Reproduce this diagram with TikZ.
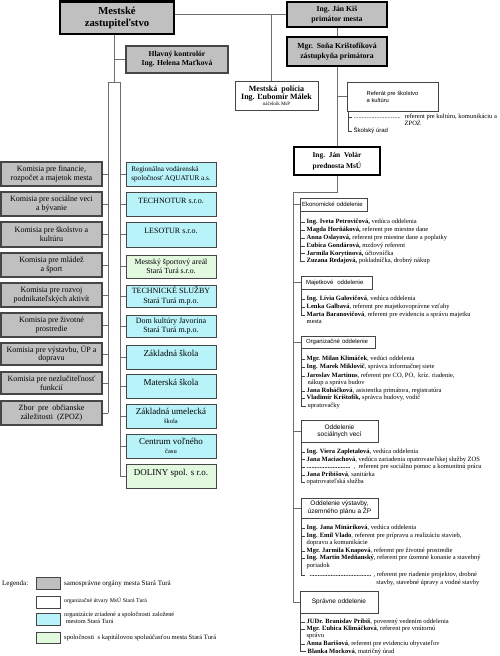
\documentclass[tikz,border=0pt]{standalone}
\usepackage{fontspec}
\setmainfont{Liberation Serif}
\setsansfont{Liberation Sans}
\usetikzlibrary{calc}
\definecolor{grayfill}{RGB}{192,192,192}
\definecolor{cyanfill}{RGB}{184,243,250}
\definecolor{greenfill}{RGB}{226,249,224}
\definecolor{linec}{RGB}{110,110,110}
\definecolor{bordc}{RGB}{70,70,70}
\newcommand\fsz[2]{\fontsize{#1}{#2}\selectfont}
\newcommand\mybox[7]{\node[#2, minimum width={(#5-#3)*1pt}, minimum height={(#6-#4)*1pt}] (#1) at ({(#3+#5)/2},{(#4+#6)/2}) {#7};}
\tikzset{
  every node/.style={inner sep=1pt},
  conn/.style={draw=linec, line width=0.9pt},
  stub/.style={draw=bordc, line width=0.5pt},
  headbox/.style={draw=black, line width=2pt, fill=grayfill, align=center, font=\bfseries\fsz{7.7}{10}},
  kom/.style={draw=bordc, line width=1.1pt, fill=grayfill, align=center, font=\fsz{8}{8.8}},
  comp/.style={draw=bordc, line width=0.9pt, fill=cyanfill, align=center, font=\fsz{8}{9.5}},
  compg/.style={comp, fill=greenfill},
  school/.style={comp, font=\fsz{9}{9.5}},
  dept/.style={draw=bordc, line width=0.6pt, fill=white, align=center, font=\sffamily\fsz{6}{7.3}},
  listitem/.style={anchor=west, inner xsep=1.5pt, inner ysep=0pt, font=\fsz{6.5}{7.8}, text height=4.6pt, text depth=1.4pt},
  legtext/.style={anchor=west, inner sep=0pt, align=left},
  txtup/.style={text depth=#1},
}
\begin{document}
\begin{tikzpicture}[x=1pt,y=-1pt]
\useasboundingbox (0,0) rectangle (500,656);

% ---------- top level ----------
\mybox{mz}{headbox, line width=2.4pt, font=\bfseries\fsz{10.7}{12.3}}{60}{1.5}{174}{34}{Mestské\\zastupiteľstvo}
\mybox{kis}{headbox}{287}{1.5}{387}{27}{Ing. Ján Kiš\\primátor mesta}
\mybox{sona}{headbox}{287}{37}{387}{66}{Mgr.\ \ Soňa Krištofíková\\zástupkyňa primátora}
\mybox{hk}{kom, font=\bfseries\fsz{7.6}{9.3}}{126}{46}{228}{73}{Hlavný kontrolór\\Ing. Helena Maťková}
\mybox{pol}{dept, line width=0.8pt, font=\bfseries\fsz{8}{7}}{235}{81}{318}{110}{Mestská\ \ polícia\\Ing. Ľubomír Málek\\[-1pt]{\mdseries\fsz{5}{5}náčelník MsP}}
\mybox{ref}{dept, align=left, font=\sffamily\fsz{5.8}{7}}{347}{82}{438}{111}{Referát pre školstvo\\a kultúru}
\mybox{vol}{headbox, fill=white, font=\bfseries\fsz{7.4}{11}}{294}{147}{380}{175}{Ing.\ \ Ján\ \ Volár\\prednosta MsÚ}

% ---------- commissions ----------
\mybox{k1}{kom}{1}{162}{102}{186}{Komisia pre financie,\\rozpočet a majetok mesta}
\mybox{k2}{kom}{1}{192}{102}{216}{Komisia pre sociálne veci\\a bývanie}
\mybox{k3}{kom}{1}{222}{102}{247}{Komisia pre školstvo a\\kultúru}
\mybox{k4}{kom}{1}{253}{102}{277}{Komisia pre mládež\\a šport}
\mybox{k5}{kom}{1}{283}{102}{307}{Komisia pre rozvoj\\podnikateľských aktivít}
\mybox{k6}{kom}{1}{313}{102}{337}{Komisia pre životné\\prostredie}
\mybox{k7}{kom}{1}{343}{102}{365}{Komisia pre výstavbu, ÚP a\\dopravu}
\mybox{k8}{kom}{1}{372}{102}{394}{Komisia pre nezlučiteľnosť\\funkcií}
\mybox{k9}{kom}{1}{401}{102}{425}{Zbor\ \ pre\ \ občianske\\záležitosti\ \ (ZPOZ)}

% ---------- companies ----------
\mybox{c1}{comp, align=left, font=\fsz{7.2}{9}}{126}{162}{216}{186}{Regionálna vodárenská\\spoločnosť AQUATUR a.s.}
\mybox{c2}{comp, txtup=7pt}{126}{192}{216}{216}{TECHNOTUR s.r.o.}
\mybox{c3}{comp, txtup=7pt}{126}{222}{216}{247}{LESOTUR s.r.o.}
\mybox{c4}{compg, font=\fsz{7.8}{9.5}}{126}{255}{216}{278}{Mestský športový areál\\Stará Turá s.r.o.}
\mybox{c5}{comp}{126}{285}{216}{307}{TECHNICKÉ SLUŽBY\\Stará Turá m.p.o.}
\mybox{c6}{comp}{126}{315}{216}{337}{Dom kultúry Javorina\\Stará Turá m.p.o.}
\mybox{c7}{school, txtup=8pt}{126}{345}{216}{369}{Základná škola}
\mybox{c8}{school, txtup=8pt}{126}{374}{216}{398}{Materská škola}
\mybox{c9}{school}{126}{404}{216}{428}{Základná umelecká\\{\fsz{6.5}{7}škola}}
\mybox{c10}{school}{126}{434}{216}{458}{Centrum voľného\\{\fsz{6.5}{7}času}}
\mybox{c11}{school, fill=greenfill, txtup=8pt}{126}{464}{216}{488}{DOLINY spol. s r.o.}

% ---------- departments ----------
\node[dept, text width=63pt, inner xsep=2pt, align=left, minimum height=13pt] (eko) at (333.5,204.5) {Ekonomické oddelenie};
\node[dept, text width=61pt, inner xsep=5pt, align=left, minimum height=13pt] (maj) at (336.5,282.5) {Majetkové\ \ oddelenie};
\node[dept, text width=64pt, inner xsep=5pt, align=left, minimum height=12pt] (org) at (338,342) {Organizačné oddelenie};
\mybox{soc}{dept, font=\sffamily\fsz{6.5}{7.3}}{301}{420}{378}{442}{Oddelenie\\sociálnych vecí}
\mybox{vys}{dept, font=\sffamily\fsz{6.5}{7}}{301}{498}{378}{518}{Oddelenie výstavby,\\územného plánu a ŽP}
\mybox{spr}{dept, font=\sffamily\fsz{6.5}{7}}{300}{591}{378}{613}{Správne oddelenie}

% ---------- connectors: top ----------
\draw[conn] (mz.east |- kis.west) -- (kis.west);
\coordinate (pv) at (271,14);
\draw[conn] (pv) -- (pv |- pol.north);
\draw[conn] (kis.south) -- (sona.north);
\draw[conn] (sona.south) -- (vol.north);
\draw[conn] (sona.south |- ref.west) -- (ref.west);

% ---------- connectors: left column ----------
\coordinate (colT) at (114,82);
\coordinate (colL) at (108,82);
\coordinate (colR) at (120,82);
\draw[conn] (colT |- mz.south) -- (colT);
\draw[conn] (colL) -- (colR);
\draw[conn] (colL) -- (colL |- k9.east);
\draw[conn] (colR) -- (colR |- c11.west);
\draw[conn] (hk.west -| colT) -- (hk.west);
\foreach \i in {1,...,9} \draw[conn] (k\i.east) -- (k\i.east -| colL);
\foreach \i in {1,...,11} \draw[conn] (c\i.west) -- (c\i.west -| colR);

% ---------- connectors: departments ----------
\coordinate (dsp) at (293,192);
\draw[conn] (vol.south) |- (dsp) -- (dsp |- spr.west);
\foreach \d in {eko,maj,org,soc,vys,spr} \draw[conn] (dsp |- \d.west) -- (\d.west);

% ---------- Referat sub items ----------
\coordinate (refS) at ($(ref.south west)+(1.5,0)$);
\node[listitem] (r1) at (352,117) {\makebox[51pt][l]{.............................}referent pre kultúru, komunikáciu a};
\node[listitem] (r2) at (403,123.5) {ZPOZ};
\node[listitem, font=\sffamily\fsz{6}{7}] (r3) at (352,131) {Školský úrad};
\foreach \n in {r1,r3} \draw[stub] (refS) |- (\n.west);

% ---------- Ekonomicke ----------
\coordinate (ekoS) at ($(eko.south west)+(1,0)$);
\node[listitem] (e1) at (305,222) {\textbf{Ing. Iveta Petrovičová,} vedúca oddelenia};
\node[listitem] (e2) at (305,230) {\textbf{Magda Horňáková,} referent pre miestne dane};
\node[listitem] (e3) at (305,238) {\textbf{Anna Oslayová,} referent pre miestne dane a poplatky};
\node[listitem] (e4) at (305,246) {\textbf{Ľubica Gondárová,} mzdový referent};
\node[listitem] (e5) at (305,253.5) {\textbf{Jarmila Korytinová,} účtovníčka};
\node[listitem] (e6) at (305,261) {\textbf{Zuzana Redajová,} pokladníčka, drobný nákup};
\foreach \n in {e1,e2,e3,e4,e5,e6} \draw[stub] (ekoS) |- (\n.west);

% ---------- Majetkove ----------
\coordinate (majS) at ($(maj.south west)+(1,0)$);
\node[listitem] (m1) at (305,299) {\textbf{Ing. Lívia Galovičová}, vedúca oddelenia};
\node[listitem] (m2) at (305,307) {\textbf{Lenka Galbavá}, referent pre majetkovoprávne vzťahy};
\node[listitem] (m3) at (305,315) {\textbf{Marta Baranovičová}, referent pre evidenciu a správu majetku};
\node[listitem] (m3b) at (305,322) {mesta};
\foreach \n in {m1,m2,m3} \draw[stub] (majS) |- (\n.west);

% ---------- Organizacne ----------
\coordinate (orgS) at ($(org.south west)+(1,0)$);
\node[listitem] (o1) at (305,359) {\textbf{Mgr. Milan Klimáček}, vedúci oddelenia};
\node[listitem] (o2) at (305,367) {\textbf{Ing. Marek Miklovič}, správca informačnej siete};
\node[listitem] (o3) at (305,376) {\textbf{Jaroslav Martinus}, referent pre CO, PO,\ \ kríz. riadenie,};
\node[listitem] (o3b) at (306,383) {nákup a správa budov};
\node[listitem] (o4) at (305,391) {\textbf{Jana Roháčková}, asistentka primátora, registratúra};
\node[listitem] (o5) at (305,398) {\textbf{Vladimír Krištofík,} správca budovy, vodič};
\node[listitem] (o6) at (306,406) {upratovačky};
\foreach \n in {o1,o2,o3,o4,o5,o6} \draw[stub] (orgS) |- (\n.west);

% ---------- Socialne ----------
\coordinate (socS) at ($(soc.south west)+(1,0)$);
\node[listitem] (s1) at (305,452) {\textbf{Ing. Viera Zapletalová}, vedúca oddelenia};
\node[listitem] (s2) at (305,459.5) {\textbf{Jana Maciachová}, vedúca zariadenia opatrovateľskej služby ZOS};
\node[listitem] (s3) at (305,467) {\makebox[47pt][l]{\textbf{...........................}},\ \ referent pre sociálnu pomoc a komunitnú prácu};
\node[listitem] (s4) at (305,475) {\textbf{Jana Pribišová}, sanitárka};
\node[listitem] (s5) at (305,482) {opatrovateľská služba};
\foreach \n in {s1,s2,s3,s4,s5} \draw[stub] (socS) |- (\n.west);

% ---------- Vystavba ----------
\coordinate (vysS) at ($(vys.south west)+(1,0)$);
\node[listitem] (v1) at (305,528) {\textbf{Ing. Jana Mináriková}, vedúca oddelenia};
\node[listitem] (v2) at (305,536) {\textbf{Ing. Emil Vlado}, referent pre prípravu a realizáciu stavieb,};
\node[listitem] (v2b) at (305,543) {dopravu a komunikácie};
\node[listitem] (v3) at (305,551) {\textbf{Mgr. Jarmila Knapová}, referent pre životné prostredie};
\node[listitem] (v4) at (305,558) {\textbf{Ing. Martin Medňanský}, referent pre územné konanie a stavebný};
\node[listitem] (v4b) at (305,566) {poriadok};
\node[listitem] (v5) at (305,575) {\makebox[67pt][l]{\hspace*{3pt}\textbf{......................................}}, referent pre riadenie projektov, drobné};
\node[listitem, anchor=east] (v5b) at (481,583) {stavby, stavebné úpravy a vodné stavby};
\foreach \n in {v1,v2,v3,v4,v5} \draw[stub] (vysS) |- (\n.west);

% ---------- Spravne ----------
\coordinate (sprS) at ($(spr.south west)+(1,0)$);
\node[listitem] (p1) at (305,622) {\textbf{JUDr. Branislav Pribiš}, poverený vedením oddelenia};
\node[listitem] (p2) at (305,629) {\textbf{Mgr. Ľubica Klimáčková}, referent pre vnútornú};
\node[listitem] (p2b) at (305,635.5) {správu};
\node[listitem] (p3) at (305,644) {\textbf{Anna Barišová}, referent pre evidenciu obyvateľov};
\node[listitem] (p4) at (306,651.5) {\textbf{Blanka Mocková}, matričný úrad};
\foreach \n in {p1,p2,p3,p4} \draw[stub] (sprS) |- (\n.west);

% ---------- Legend ----------
\node[legtext, font=\fsz{7}{8}] (leg) at (2,584) {Legenda:};
\mybox{lg1}{kom, line width=1pt}{36}{577}{60}{589}{}
\mybox{lg2}{kom, fill=white, line width=0.8pt}{36}{596}{60}{608}{}
\mybox{lg3}{comp}{36}{613}{60}{625}{}
\mybox{lg4}{compg}{36}{632}{60}{643}{}
\node[legtext, font=\fsz{7}{8}] (lt1) at (64,584) {samosprávne orgány mesta Stará Turá};
\node[legtext, font=\fsz{5.8}{7}] (lt2) at (64,601) {organizačné útvary MsÚ Stará Turá};
\node[legtext, font=\fsz{6.3}{7}] (lt3) at (64,617.5) {organizácie zriadené a spoločnosti založené\\\ mestom Stará Turá};
\node[legtext, font=\fsz{6.6}{7.5}] (lt4) at (64,638) {spoločnosti\ \ s kapitálovou spoluúčasťou mesta Stará Turá};
\end{tikzpicture}
\end{document}
